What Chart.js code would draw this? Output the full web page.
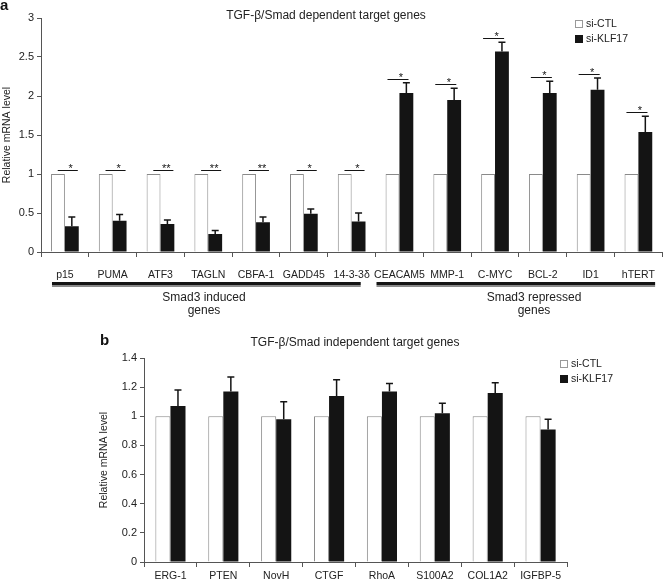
<!DOCTYPE html>
<html lang="en">
<head>
    <meta charset="UTF-8">
    <title>KLF17 target genes</title>
    <style>
        body {
            margin: 0;
            background: #fff;
            font-family: "Liberation Sans", Arial, sans-serif;
            color: #222;
        }
        .wrap {
            position: relative;
            width: 667px;
            height: 583px;
            overflow: hidden;
        }
        canvas {
            position: absolute;
            left: 0;
        }
        .txt {
            position: absolute;
            white-space: nowrap;
            line-height: 1;
        }
        .panel {
            font-weight: bold;
            font-size: 15px;
            color: #111;
        }
        .title {
            font-size: 12px;
            transform: translate(-50%, -50%);
        }
        .group {
            font-size: 12px;
            text-align: center;
            line-height: 13px;
            transform: translateX(-50%);
        }
        .leg {
            position: absolute;
            font-size: 10.5px;
            line-height: 15px;
        }
        .leg span {
            display: inline-block;
            width: 8px;
            height: 8px;
            margin-right: 3px;
            vertical-align: -1px;
            box-sizing: border-box;
        }
        .box-ctl { background: #fff; border: 1px solid #999; }
        .box-klf { background: #141414; }
    </style>
    <script src="https://cdn.jsdelivr.net/npm/chart.js@4.4.1/dist/chart.umd.min.js"></script>
</head>
<body>
<div class="wrap">
    <canvas id="chart-a" width="667" height="320" style="top:0"></canvas>
    <canvas id="chart-b" width="667" height="263" style="top:320px"></canvas>

    <div class="txt panel" style="left:0px; top:-3px;">a</div>
    <div class="txt title" style="left:326px; top:15px;">TGF-β/Smad dependent target genes</div>
    <div class="leg" style="left:575px; top:16px;">
        <div><span class="box-ctl"></span>si-CTL</div>
        <div><span class="box-klf"></span>si-KLF17</div>
    </div>
    <div class="txt group" style="left:204px; top:291px;">Smad3 induced<br>genes</div>
    <div class="txt group" style="left:534px; top:291px;">Smad3 repressed<br>genes</div>

    <div class="txt panel" style="left:100px; top:332px;">b</div>
    <div class="txt title" style="left:355px; top:342px;">TGF-β/Smad independent target genes</div>
    <div class="leg" style="left:560px; top:356px;">
        <div><span class="box-ctl"></span>si-CTL</div>
        <div><span class="box-klf"></span>si-KLF17</div>
    </div>
</div>

<script>
    // panel a: TGF-b/Smad dependent genes
    const genesA = ['p15', 'PUMA', 'ATF3', 'TAGLN', 'CBFA-1', 'GADD45', '14-3-3δ',
                    'CEACAM5', 'MMP-1', 'C-MYC', 'BCL-2', 'ID1', 'hTERT'];
    const ctlA = [1, 1, 1, 1, 1, 1, 1, 1, 1, 1, 1, 1, 1];
    const klfA = [0.33, 0.40, 0.36, 0.23, 0.38, 0.49, 0.39, 2.04, 1.95, 2.57, 2.04, 2.08, 1.54];
    const errA = [0.12, 0.08, 0.05, 0.045, 0.07, 0.06, 0.11, 0.13, 0.15, 0.12, 0.15, 0.15, 0.20];
    const starsA = ['*', '*', '**', '**', '**', '*', '*', '*', '*', '*', '*', '*', '*'];
    const groupsA = [[0, 6], [7, 12]];   // induced / repressed (category index ranges)
    const ticksA = [0, 0.5, 1, 1.5, 2, 2.5, 3];

    // panel b: TGF-b/Smad independent genes
    const genesB = ['ERG-1', 'PTEN', 'NovH', 'CTGF', 'RhoA', 'S100A2', 'COL1A2', 'IGFBP-5'];
    const ctlB = [1, 1, 1, 1, 1, 1, 1, 1];
    const klfB = [1.07, 1.17, 0.98, 1.14, 1.17, 1.02, 1.16, 0.91];
    const errB = [0.11, 0.10, 0.12, 0.11, 0.055, 0.07, 0.07, 0.07];
    const ticksB = [0, 0.2, 0.4, 0.6, 0.8, 1, 1.2, 1.4];

    const FONT = '"Liberation Sans", Arial, sans-serif';
    const AXIS = '#555';
    const BLACK = '#141414';

    // error bar (upper only) on the si-KLF17 bars
    const errorBars = {
        id: 'errorBars',
        afterDatasetsDraw(chart, args, opts) {
            const ctx = chart.ctx;
            const y = chart.scales.y;
            const meta = chart.getDatasetMeta(1);
            ctx.save();
            ctx.strokeStyle = BLACK;
            ctx.lineWidth = 1.5;
            meta.data.forEach((bar, i) => {
                const top = y.getPixelForValue(opts.values[i] + opts.errors[i]);
                ctx.beginPath();
                ctx.moveTo(bar.x, bar.y);
                ctx.lineTo(bar.x, top);
                ctx.moveTo(bar.x - 3.5, top);
                ctx.lineTo(bar.x + 3.5, top);
                ctx.stroke();
            });
            ctx.restore();
        }
    };

    // significance brackets + stars, group underlines for panel a
    const sigMarks = {
        id: 'sigMarks',
        afterDatasetsDraw(chart) {
            const ctx = chart.ctx;
            const x = chart.scales.x, y = chart.scales.y;
            const catW = x.getPixelForValue(1) - x.getPixelForValue(0);
            ctx.save();
            ctx.strokeStyle = BLACK;
            ctx.fillStyle = BLACK;
            ctx.lineWidth = 1;
            ctx.font = '11px ' + FONT;
            ctx.textAlign = 'center';
            ctx.textBaseline = 'alphabetic';
            starsA.forEach((s, i) => {
                const up = klfA[i] > ctlA[i];
                const level = Math.max(ctlA[i], klfA[i] + errA[i]) + 0.05;
                const py = Math.round(y.getPixelForValue(level)) + 0.5;
                const cx = x.getPixelForValue(i);
                const x0 = cx + (up ? -0.25 : -0.15) * catW;
                const x1 = cx + (up ? 0.19 : 0.27) * catW;
                ctx.beginPath();
                ctx.moveTo(x0, py);
                ctx.lineTo(x1, py);
                ctx.stroke();
                ctx.fillText(s, (x0 + x1) / 2 + 3, py + 1);
            });

            // thick group lines under the category labels
            const lineY = chart.chartArea.bottom + 30;
            const pads = [[0.27, 0.19], [0.48, 0.35]];
            groupsA.forEach((g, k) => {
                const x0 = x.getPixelForValue(g[0]) - pads[k][0] * catW;
                const x1 = x.getPixelForValue(g[1]) + pads[k][1] * catW;
                ctx.fillStyle = BLACK;
                ctx.fillRect(x0, lineY, x1 - x0, 3);
                ctx.fillStyle = '#8a8a8a';
                ctx.fillRect(x0, lineY + 3, x1 - x0, 2);
            });
            ctx.restore();
        }
    };

    function makeOptions(cfg) {
        return {
            responsive: false,
            animation: false,
            layout: { padding: cfg.padding },
            plugins: {
                legend: { display: false },
                tooltip: { enabled: false },
                errorBars: { values: cfg.values, errors: cfg.errors }
            },
            scales: {
                x: {
                    grid: { display: true, drawOnChartArea: false, drawTicks: true, tickLength: 5, color: AXIS, offset: true },
                    border: { color: AXIS, width: 1 },
                    ticks: { color: '#222', font: { family: FONT, size: 10.5 }, padding: cfg.xPad, maxRotation: 0, autoSkip: false },
                    afterFit: (s) => { s.height = cfg.xHeight; }
                },
                y: {
                    min: 0,
                    max: cfg.max,
                    afterBuildTicks: (s) => { s.ticks = cfg.ticks.map(v => ({ value: v })); },
                    grid: { display: true, drawOnChartArea: false, drawTicks: true, tickLength: 4, color: AXIS },
                    border: { color: AXIS, width: 1 },
                    ticks: {
                        color: '#222',
                        font: { family: FONT, size: 11 },
                        padding: 3,
                        callback: (v) => String(Math.round(v * 10) / 10)
                    },
                    title: { display: true, text: 'Relative mRNA level', color: '#222', font: { family: FONT, size: 10.5 }, padding: { top: 1, bottom: 0 } },
                    afterFit: (s) => { s.width = cfg.yWidth; }
                }
            }
        };
    }

    function datasets(ctl, klf, catPct) {
        return [
            {
                label: 'si-CTL',
                data: ctl,
                backgroundColor: '#fff',
                borderColor: '#8a8a8a',
                borderWidth: 1,
                barPercentage: 1,
                categoryPercentage: catPct
            },
            {
                label: 'si-KLF17',
                data: klf,
                backgroundColor: BLACK,
                borderWidth: 0,
                barPercentage: 1,
                categoryPercentage: catPct
            }
        ];
    }

    new Chart('chart-a', {
        type: 'bar',
        data: { labels: genesA, datasets: datasets(ctlA, klfA, 0.58) },
        options: makeOptions({
            padding: { left: 0, right: 2, top: 18, bottom: 0 },
            max: 3, ticks: ticksA, values: klfA, errors: errA,
            xHeight: 68, xPad: 12, yWidth: 41
        }),
        plugins: [errorBars, sigMarks]
    });

    new Chart('chart-b', {
        type: 'bar',
        data: { labels: genesB, datasets: datasets(ctlB, klfB, 0.57) },
        options: makeOptions({
            padding: { left: 97, right: 100, top: 38, bottom: 0 },
            max: 1.4, ticks: ticksB, values: klfB, errors: errB,
            xHeight: 21, xPad: 3, yWidth: 47
        }),
        plugins: [errorBars]
    });
</script>
</body>
</html>
